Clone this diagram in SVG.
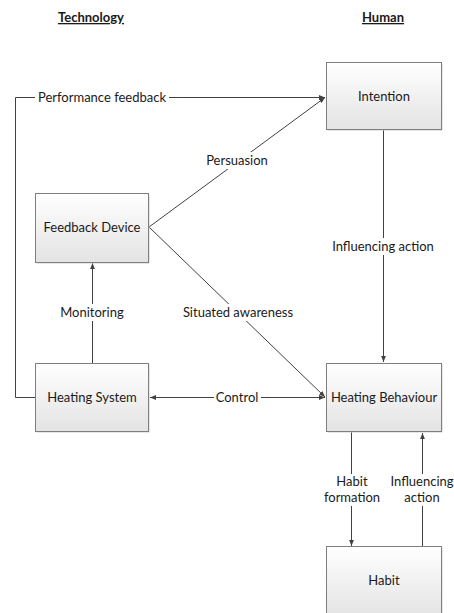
<svg xmlns="http://www.w3.org/2000/svg" width="454" height="613" viewBox="0 0 454 613">
<defs>
<linearGradient id="g" x1="0" y1="0" x2="0" y2="1">
<stop offset="0" stop-color="#ffffff"/>
<stop offset="1" stop-color="#e3e3e3"/>
</linearGradient>
<marker id="a" viewBox="0 0 10 10" refX="10" refY="5" markerWidth="6" markerHeight="6" orient="auto-start-reverse" markerUnits="userSpaceOnUse">
<path d="M0,1 L10,5 L0,9 z" fill="#404040"/>
</marker>
</defs>
<style>
.box{fill:url(#g);stroke:#7f7f7f;stroke-width:1}
.sh{fill:#d0d0d0}
.t{font-family:Lato,"Liberation Sans",sans-serif;font-size:13px;fill:#1a1a1a;text-anchor:middle}
.h{font-family:Lato,"Liberation Sans",sans-serif;font-size:13px;font-weight:bold;fill:#1a1a1a;text-anchor:middle;text-decoration:underline}
.c{fill:none;stroke:#404040;stroke-width:1}
.bg{fill:#fff}
</style>
<rect width="454" height="613" fill="#fff"/>
<text class="h" x="91" y="22">Technology</text>
<text class="h" x="383" y="22">Human</text>
<g id="connectors">
<path class="c" d="M35,397.5 H15.5 V97.5 H325" marker-end="url(#a)"/>
<path class="c" d="M149,227 L325,97.5" marker-end="url(#a)"/>
<path class="c" d="M149,227 L325,397" marker-end="url(#a)"/>
<path class="c" d="M150,397.5 H325" marker-start="url(#a)" marker-end="url(#a)"/>
<path class="c" d="M92.5,363 V263" marker-end="url(#a)"/>
<path class="c" d="M383.5,129 V362" marker-end="url(#a)"/>
<path class="c" d="M351.5,432 V546" marker-end="url(#a)"/>
<path class="c" d="M422.5,546 V433" marker-end="url(#a)"/>
<rect class="bg" x="35" y="89" width="134" height="17"/>
<text class="t" x="102" y="102">Performance feedback</text>
<rect class="bg" x="203" y="152" width="68" height="17"/>
<text class="t" x="237" y="165">Persuasion</text>
<rect class="bg" x="179" y="304" width="118" height="17"/>
<text class="t" x="238" y="317">Situated awareness</text>
<rect class="bg" x="57" y="304" width="72" height="17"/>
<text class="t" x="92" y="317">Monitoring</text>
<rect class="bg" x="214" y="389" width="47" height="17"/>
<text class="t" x="237" y="402">Control</text>
<rect class="bg" x="330" y="238" width="106" height="17"/>
<text class="t" x="383" y="251">Influencing action</text>
<rect class="bg" x="320" y="474" width="64" height="32"/>
<text class="t" x="352" y="486">Habit</text>
<text class="t" x="352" y="502">formation</text>
<rect class="bg" x="391" y="474" width="63" height="32"/>
<text class="t" x="422" y="486">Influencing</text>
<text class="t" x="422" y="502">action</text>
</g>
<g id="intention">
<rect class="sh" x="327.5" y="63.5" width="115" height="67"/>
<rect class="box" x="326.5" y="62.5" width="115" height="67"/>
<text class="t" x="384" y="101">Intention</text>
</g>
<g id="feedback-device">
<rect class="sh" x="36.5" y="194.5" width="113" height="69"/>
<rect class="box" x="35.5" y="193.5" width="113" height="69"/>
<text class="t" x="92" y="232">Feedback Device</text>
</g>
<g id="heating-system">
<rect class="sh" x="36.5" y="364.5" width="113" height="68"/>
<rect class="box" x="35.5" y="363.5" width="113" height="68"/>
<text class="t" x="92" y="402">Heating System</text>
</g>
<g id="heating-behaviour">
<rect class="sh" x="327.5" y="364.5" width="115" height="68"/>
<rect class="box" x="326.5" y="363.5" width="115" height="68"/>
<text class="t" x="384" y="402">Heating Behaviour</text>
</g>
<g id="habit">
<rect class="sh" x="327.5" y="547.5" width="115" height="70"/>
<rect class="box" x="326.5" y="546.5" width="115" height="70"/>
<text class="t" x="384" y="585">Habit</text>
</g>
</svg>
